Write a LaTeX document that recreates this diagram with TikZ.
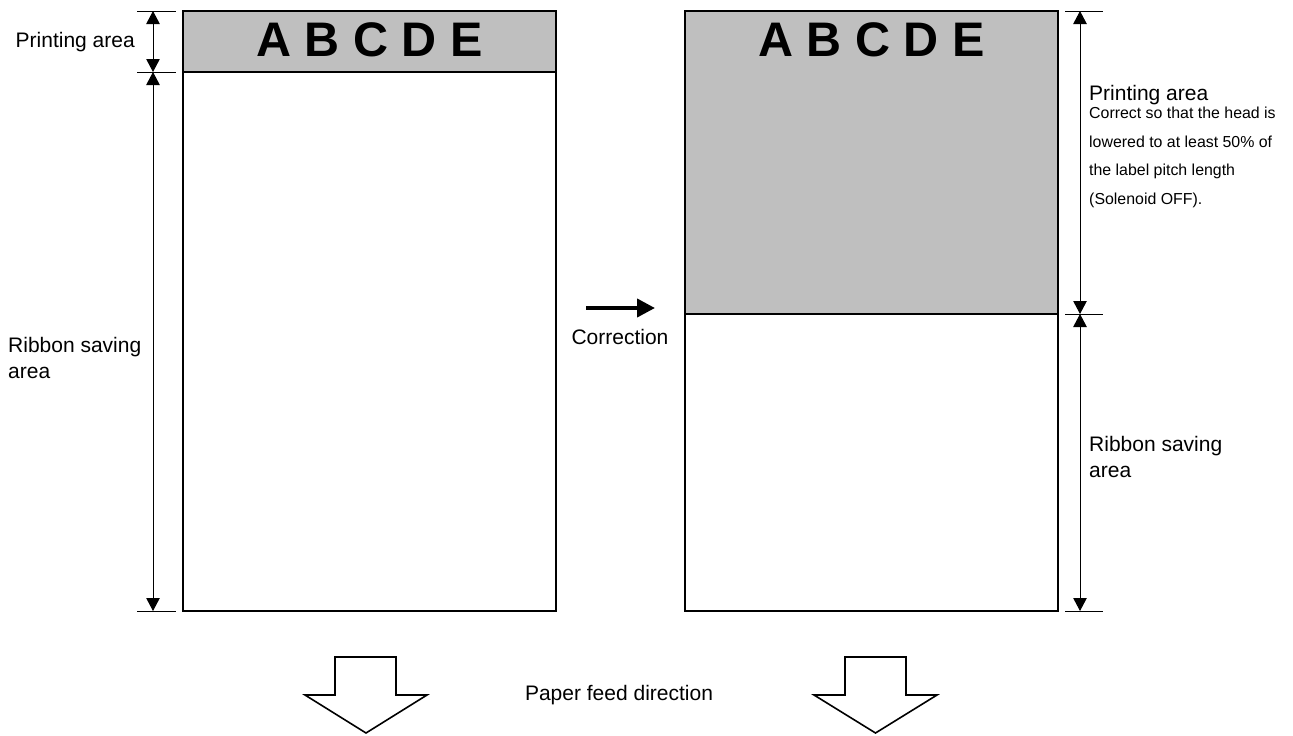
\documentclass[tikz,border=0pt]{standalone}
\usepackage{fontspec}
\setmainfont{Liberation Sans}
\usetikzlibrary{arrows.meta}
\begin{document}
\begin{tikzpicture}[x=1pt,y=-1pt,
  labelbox/.style={draw=black,line width=2pt},
  grayfill/.style={fill=black!25},
  dimline/.style={line width=1pt,{Triangle[length=13pt,width=13.5pt]}-{Triangle[length=13pt,width=13.5pt]}},
  tickline/.style={line width=1pt},
  bigtxt/.style={font=\fontsize{21}{25.5}\selectfont,inner sep=0pt,align=left},
  smalltxt/.style={font=\fontsize{15.9}{28.5}\selectfont,inner sep=0pt,align=left},
  lettxt/.style={font=\fontsize{48.5}{50}\selectfont\bfseries,inner sep=0pt},
  hollow/.style={draw=black,line width=1.6pt,fill=white,line join=miter}]
\useasboundingbox (0,0) rectangle (1293,736);
% left label
\coordinate (L1) at (183,11); \coordinate (L2) at (556,611);
\fill[grayfill] (183,11) rectangle (556,72);
\draw[labelbox] (183,72) -- (556,72);
\draw[labelbox] (L1) rectangle (L2);
\node[lettxt,anchor=base] (abcL) at (369.5,56.7) {A B C D E};
% right label
\coordinate (R1) at (685,11); \coordinate (R2) at (1058,611);
\fill[grayfill] (685,11) rectangle (1058,314);
\draw[labelbox] (685,314) -- (1058,314);
\draw[labelbox] (R1) rectangle (R2);
\node[lettxt,anchor=base] (abcR) at (871.5,56.7) {A B C D E};
% left dimensions
\coordinate (la) at (153,11); \coordinate (lb) at (153,72); \coordinate (lc) at (153,611);
\draw[tickline] (137,11) -- (176,11);
\draw[tickline] (137,72) -- (176,72);
\draw[tickline] (137,611) -- (176,611);
\draw[dimline] (la) -- (lb);
\draw[dimline] (lb) -- (lc);
\node[bigtxt,anchor=base east] (lpa) at (135,47) {Printing area};
\node[bigtxt,anchor=base west] (lrs) at (8,378) {Ribbon saving\\area};
% right dimensions
\coordinate (ra) at (1080,11); \coordinate (rb) at (1080,314); \coordinate (rc) at (1080,611);
\draw[tickline] (1065,11) -- (1103,11);
\draw[tickline] (1065,314) -- (1103,314);
\draw[tickline] (1065,611) -- (1103,611);
\draw[dimline] (ra) -- (rb);
\draw[dimline] (rb) -- (rc);
\node[bigtxt,anchor=base west] (rpa) at (1089,100) {Printing area};
\node[smalltxt,anchor=base west] (rnote) at (1089,204) {Correct so that the head is\\lowered to at least 50\% of\\the label pitch length\\(Solenoid OFF).};
\node[bigtxt,anchor=base west] (rrs) at (1089,477) {Ribbon saving\\area};
% correction arrow
\coordinate (ca) at (586,308); \coordinate (cb) at (655,308);
\draw[line width=4pt,-{Triangle[length=18pt,width=18pt]}] (ca) -- (cb);
\node[bigtxt,anchor=base] (corr) at (620,344) {Correction};
% feed arrows
\draw[hollow] (335,657) -- (396,657) -- (396,695) -- (427,695) -- (366,733) -- (305,695) -- (335,695) -- cycle;
\draw[hollow] (845,657) -- (906,657) -- (906,695) -- (937,695) -- (875.5,733) -- (814,695) -- (845,695) -- cycle;
\node[bigtxt,anchor=base] (feed) at (619,700.7) {Paper feed direction};
\end{tikzpicture}
\end{document}
